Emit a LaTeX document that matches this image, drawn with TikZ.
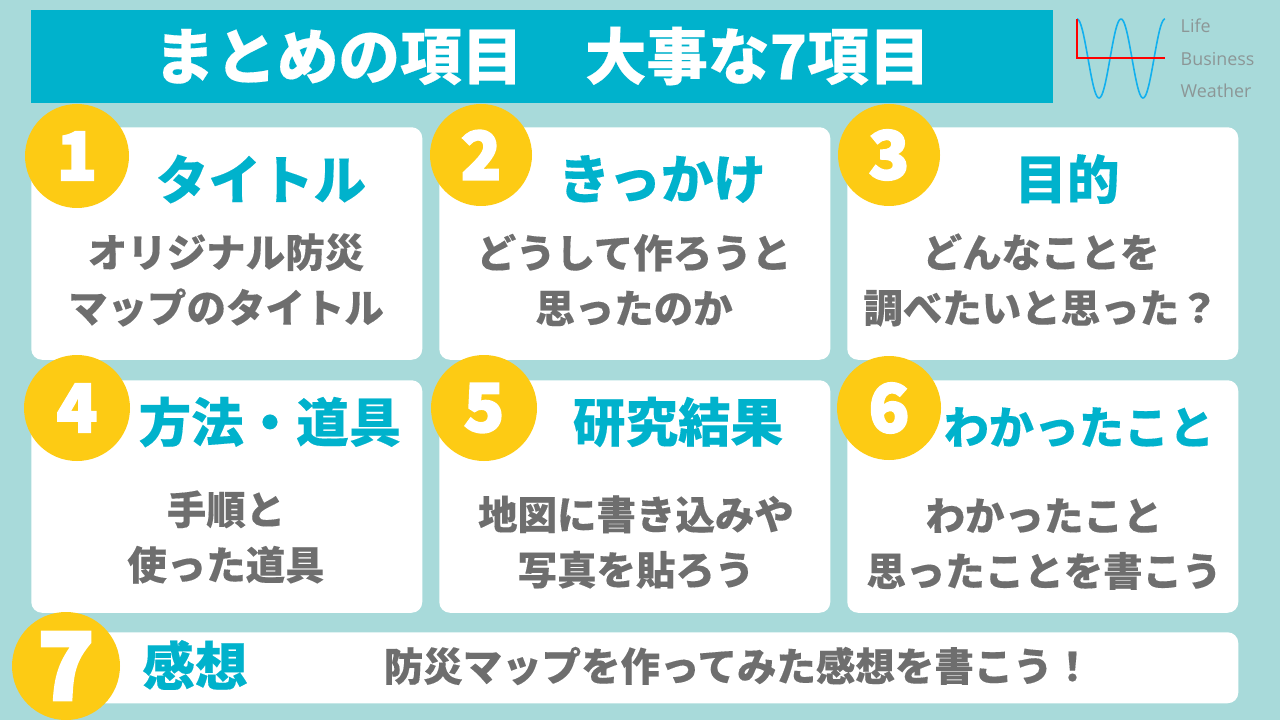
\documentclass[tikz,border=0pt]{standalone}
\usepackage{fontspec}
\setmainfont{Noto Sans CJK JP}[BoldFeatures={FakeBold=0.25}]
\newfontfamily\logofont{Open Sans}
\newfontfamily\numfont{Noto Sans CJK JP}[BoldFeatures={FakeBold=3}]
\definecolor{bgteal}{HTML}{A8DADA}
\definecolor{barblue}{HTML}{00B2CC}
\definecolor{numyellow}{HTML}{FDCB14}
\definecolor{bodygray}{HTML}{6E6E6E}
\definecolor{logogray}{HTML}{8C9696}
\definecolor{waveblue}{HTML}{12B0EE}
\usetikzlibrary{positioning}
\tikzset{
  card/.style={fill=white,rounded corners=8pt,inner sep=0pt,anchor=north west},
  num/.style={circle,fill=numyellow,text=white,inner sep=0pt,font=\fontsize{50}{50}\selectfont\numfont\bfseries},
  head/.style={text=barblue,font=\fontsize{39.4}{44}\selectfont\bfseries},
  body/.style={text=bodygray,align=center,font=\fontsize{29.6}{41.5}\selectfont\bfseries},
  logo/.style={text=logogray,anchor=west,font=\fontsize{13.4}{15}\selectfont\logofont},
}
\begin{document}
\begin{tikzpicture}[x=0.75pt,y=-0.75pt]
  \fill[bgteal] (0,0) rectangle (1280,720);
  \useasboundingbox (0,0) rectangle (1280,720);

  % title bar
  \node[fill=barblue,text=white,minimum width=1022*0.75pt,minimum height=93*0.75pt,inner sep=0pt] (title) at (542,56.5) {};
  \node[text=white,font=\fontsize{46.2}{46}\selectfont\bfseries] (titletext) at (542,56) {まとめの項目\hspace{1em}大事な7項目};

  % logo
  \draw[waveblue,line width=1.2pt] plot[domain=0:88,samples=120] ({1077+\x},{58.5-39.5*cos(\x/44*360)});
  \draw[red,line width=1pt] (1077,19) -- (1077,58) -- (1165,58);
  \node[logo] (life) at (1176,26) {Life};
  \node[logo] (business) at (1176,59) {Business};
  \node[logo] (weather) at (1176,91) {Weather};

  % cards
  \foreach \nm/\x/\y in {c1/31/127,c2/439/127,c3/847/127,c4/31/380,c5/439/380,c6/847/380}
    \node[card,minimum width=391*0.75pt,minimum height=232.5*0.75pt] (\nm) at (\x,\y) {};
  \node[card,minimum width=1167*0.75pt,minimum height=71*0.75pt] (c7) at (71,632) {};

  % numbers
  \foreach \nm/\x/\y/\r/\t in {n1/77/156/52/1,n2/481/155/51/2,n3/889/155/51/3,n4/77/408/53/4,n5/484/408/53/5,n6/889/408/52/6}
    \node[num,minimum size=2*\r*0.75pt] (\nm) at (\x,\y) {\t};
  \node[num,minimum size=108*0.75pt,font=\fontsize{70}{70}\selectfont\numfont\bfseries] (n7) at (66,666) {7};

  % headings
  \node[head] (h1) at (261,179) {タイトル};
  \node[head] (h2) at (662,179) {きっかけ};
  \node[head] (h3) at (1067,179) {目的};
  \node[head] (h4) at (270,422) {方法・道具};
  \node[head] (h5) at (678,422) {研究結果};
  \node[head,font=\fontsize{33.8}{40}\selectfont\bfseries] (h6) at (1079,427) {わかったこと};
  \node[head] (h7) at (195,665) {感想};

  % body
  \node[body] (b1) at (226,280) {オリジナル防災\\マップのタイトル};
  \node[body] (b2) at (634,280) {どうして作ろうと\\思ったのか};
  \node[body] (b3) at (1041,280) {どんなことを\\調べたいと思った？};
  \node[body] (b4) at (226,537) {手順と\\使った道具};
  \node[body] (b5) at (636,542) {地図に書き込みや\\写真を貼ろう};
  \node[body] (b6) at (1044,544) {わかったこと\\思ったことを書こう};
  \node[body] (b7) at (738,666) {防災マップを作ってみた感想を書こう！};
\end{tikzpicture}
\end{document}
